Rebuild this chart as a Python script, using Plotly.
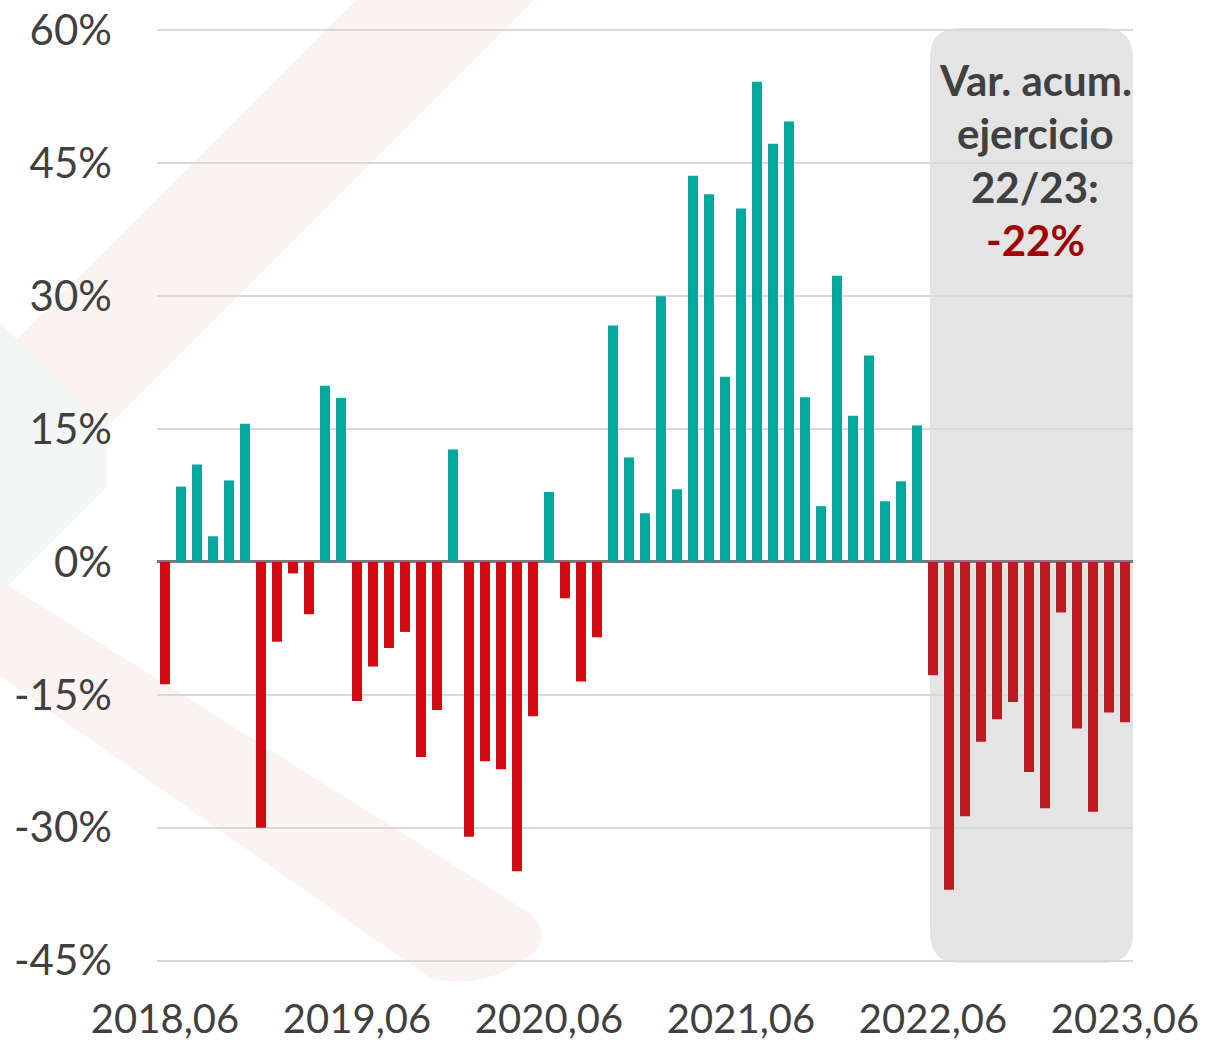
import plotly.graph_objects as go

# ---------------- data ----------------
months = [f"{2018 + (5 + i) // 12},{(5 + i) % 12 + 1:02d}" for i in range(61)]  # 2018,06 ... 2023,06
values = [-13.8, 8.5, 11.0, 2.9, 9.2, 15.6, -30.0, -9.0, -1.3, -5.9, 19.9, 18.5,
          -15.7, -11.8, -9.7, -7.9, -22.0, -16.7, 12.7, -31.0, -22.5, -23.4, -34.9, -17.4,
          7.9, -4.1, -13.5, -8.5, 26.7, 11.8, 5.5, 30.0, 8.2, 43.6, 41.5, 20.9,
          39.9, 54.2, 47.2, 49.7, 18.6, 6.3, 32.3, 16.5, 23.3, 6.85, 9.1, 15.4,
          -12.8, -37.0, -28.7, -20.3, -17.75, -15.8, -23.7, -27.8, -5.7, -18.8, -28.2, -17.0,
          -18.1]
tick_labels = ["2018,06", "2019,06", "2020,06", "2021,06", "2022,06", "2023,06"]
y_ticks = [-45, -30, -15, 0, 15, 30, 45, 60]
y_tick_text = ["-45%", "-30%", "-15%", "0%", "15%", "30%", "45%", "60%"]
highlight_start = "2022,06"
note_lines = ["Var. acum.", "ejercicio", "22/23:"]
note_value = "-22%"

# ---------------- style ----------------
TEAL = "#00A99D"
RED = "#D20A14"
RED2 = "#BE1A26"
TXT = "#404040"
FONT = "Lato"

W, H = 1211, 1045
L, R, T, B = 157, 78, 25, 79
PW, PH = W - L - R, H - T - B

def px(x, y):
    return (x - L) / PW, (T + PH - y) / PH

hi_idx = months.index(highlight_start)
colors = []
for i, v in enumerate(values):
    if v >= 0:
        colors.append(TEAL)
    else:
        colors.append(RED2 if i >= hi_idx else RED)

fig = go.Figure(go.Bar(x=months, y=values, marker=dict(color=colors, line=dict(width=0)),
                       showlegend=False, hoverinfo="skip"))

def path_from(segments):
    s = ""
    for cmd, pts in segments:
        s += cmd + " " + " ".join(f"{a:.5f},{b:.5f}" for a, b in (px(*p) for p in pts)) + " "
    return s + "Z"

shapes = []
pink = "#FBF2F2"
# faint watermark bands
shapes.append(dict(type="path", xref="paper", yref="paper", layer="below", line=dict(width=0),
                   fillcolor=pink,
                   path=path_from([("M", [(376, -20)]), ("L", [(554, -20)]),
                                   ("L", [(0, 534)]), ("L", [(0, 356)])])))
shapes.append(dict(type="path", xref="paper", yref="paper", layer="below", line=dict(width=0),
                   fillcolor=pink,
                   path=path_from([("M", [(0, 580)]), ("L", [(528, 912)]),
                                   ("Q", [(560, 940), (520, 962)]),
                                   ("Q", [(480, 990), (430, 978)]),
                                   ("L", [(0, 676)])])))
shapes.append(dict(type="path", xref="paper", yref="paper", layer="below", line=dict(width=0),
                   fillcolor="#F2F6F5",
                   path=path_from([("M", [(0, 323)]), ("L", [(85, 405)]),
                                   ("Q", [(108, 430), (107, 460)]),
                                   ("L", [(107, 487)]), ("L", [(0, 594)])])))
# highlight box with rounded corners
x0, x1, y0, y1, r = 930, 1133, 28, 963, 30
shapes.append(dict(type="path", xref="paper", yref="paper", layer="below", line=dict(width=0),
                   fillcolor="#E4E4E4",
                   path=path_from([("M", [(x0 + r, y0)]), ("L", [(x1 - r, y0)]),
                                   ("Q", [(x1, y0), (x1, y0 + r)]), ("L", [(x1, y1 - r)]),
                                   ("Q", [(x1, y1), (x1 - r, y1)]), ("L", [(x0 + r, y1)]),
                                   ("Q", [(x0, y1), (x0, y1 - r)]), ("L", [(x0, y0 + r)]),
                                   ("Q", [(x0, y0), (x0 + r, y0)])])))

annotations = []
line_y = [80, 133, 187, 240]
cx = 1035
for txt, yy in zip(note_lines + [note_value], line_y):
    xp, yp = px(cx, yy)
    annotations.append(dict(x=xp, y=yp, xref="paper", yref="paper", text=f"<b>{txt}</b>",
                            showarrow=False, xanchor="center", yanchor="middle",
                            font=dict(family=FONT, size=42,
                                      color="#A00000" if txt == note_value else TXT)))

fig.update_layout(
    width=W, height=H,
    margin=dict(l=L, r=R, t=T, b=B, pad=0, autoexpand=False),
    paper_bgcolor="white", plot_bgcolor="rgba(0,0,0,0)",
    bargap=0.375,
    shapes=shapes, annotations=annotations,
    font=dict(family=FONT, color=TXT),
)
fig.update_xaxes(type="category", range=[-0.5, 60.5], tickmode="array",
                 tickvals=tick_labels, ticktext=tick_labels, showgrid=False,
                 showline=False, ticks="", tickangle=0, automargin=False,
                 tickfont=dict(family=FONT, size=40, color=TXT), ticklabelstandoff=26)
fig.update_yaxes(range=[-45.6, 60.6], tickmode="array", tickvals=y_ticks, ticktext=y_tick_text,
                 showgrid=True, gridcolor="#D9D9D9", gridwidth=2,
                 zeroline=True, zerolinecolor="#7A7A7A", zerolinewidth=2.5,
                 showline=False, ticks="", automargin=False,
                 tickfont=dict(family=FONT, size=42, color=TXT), ticklabelstandoff=44)

fig.write_html("out.html", config={"displayModeBar": False},
               post_script="document.body.style.margin='0';document.body.style.overflow='hidden';")
